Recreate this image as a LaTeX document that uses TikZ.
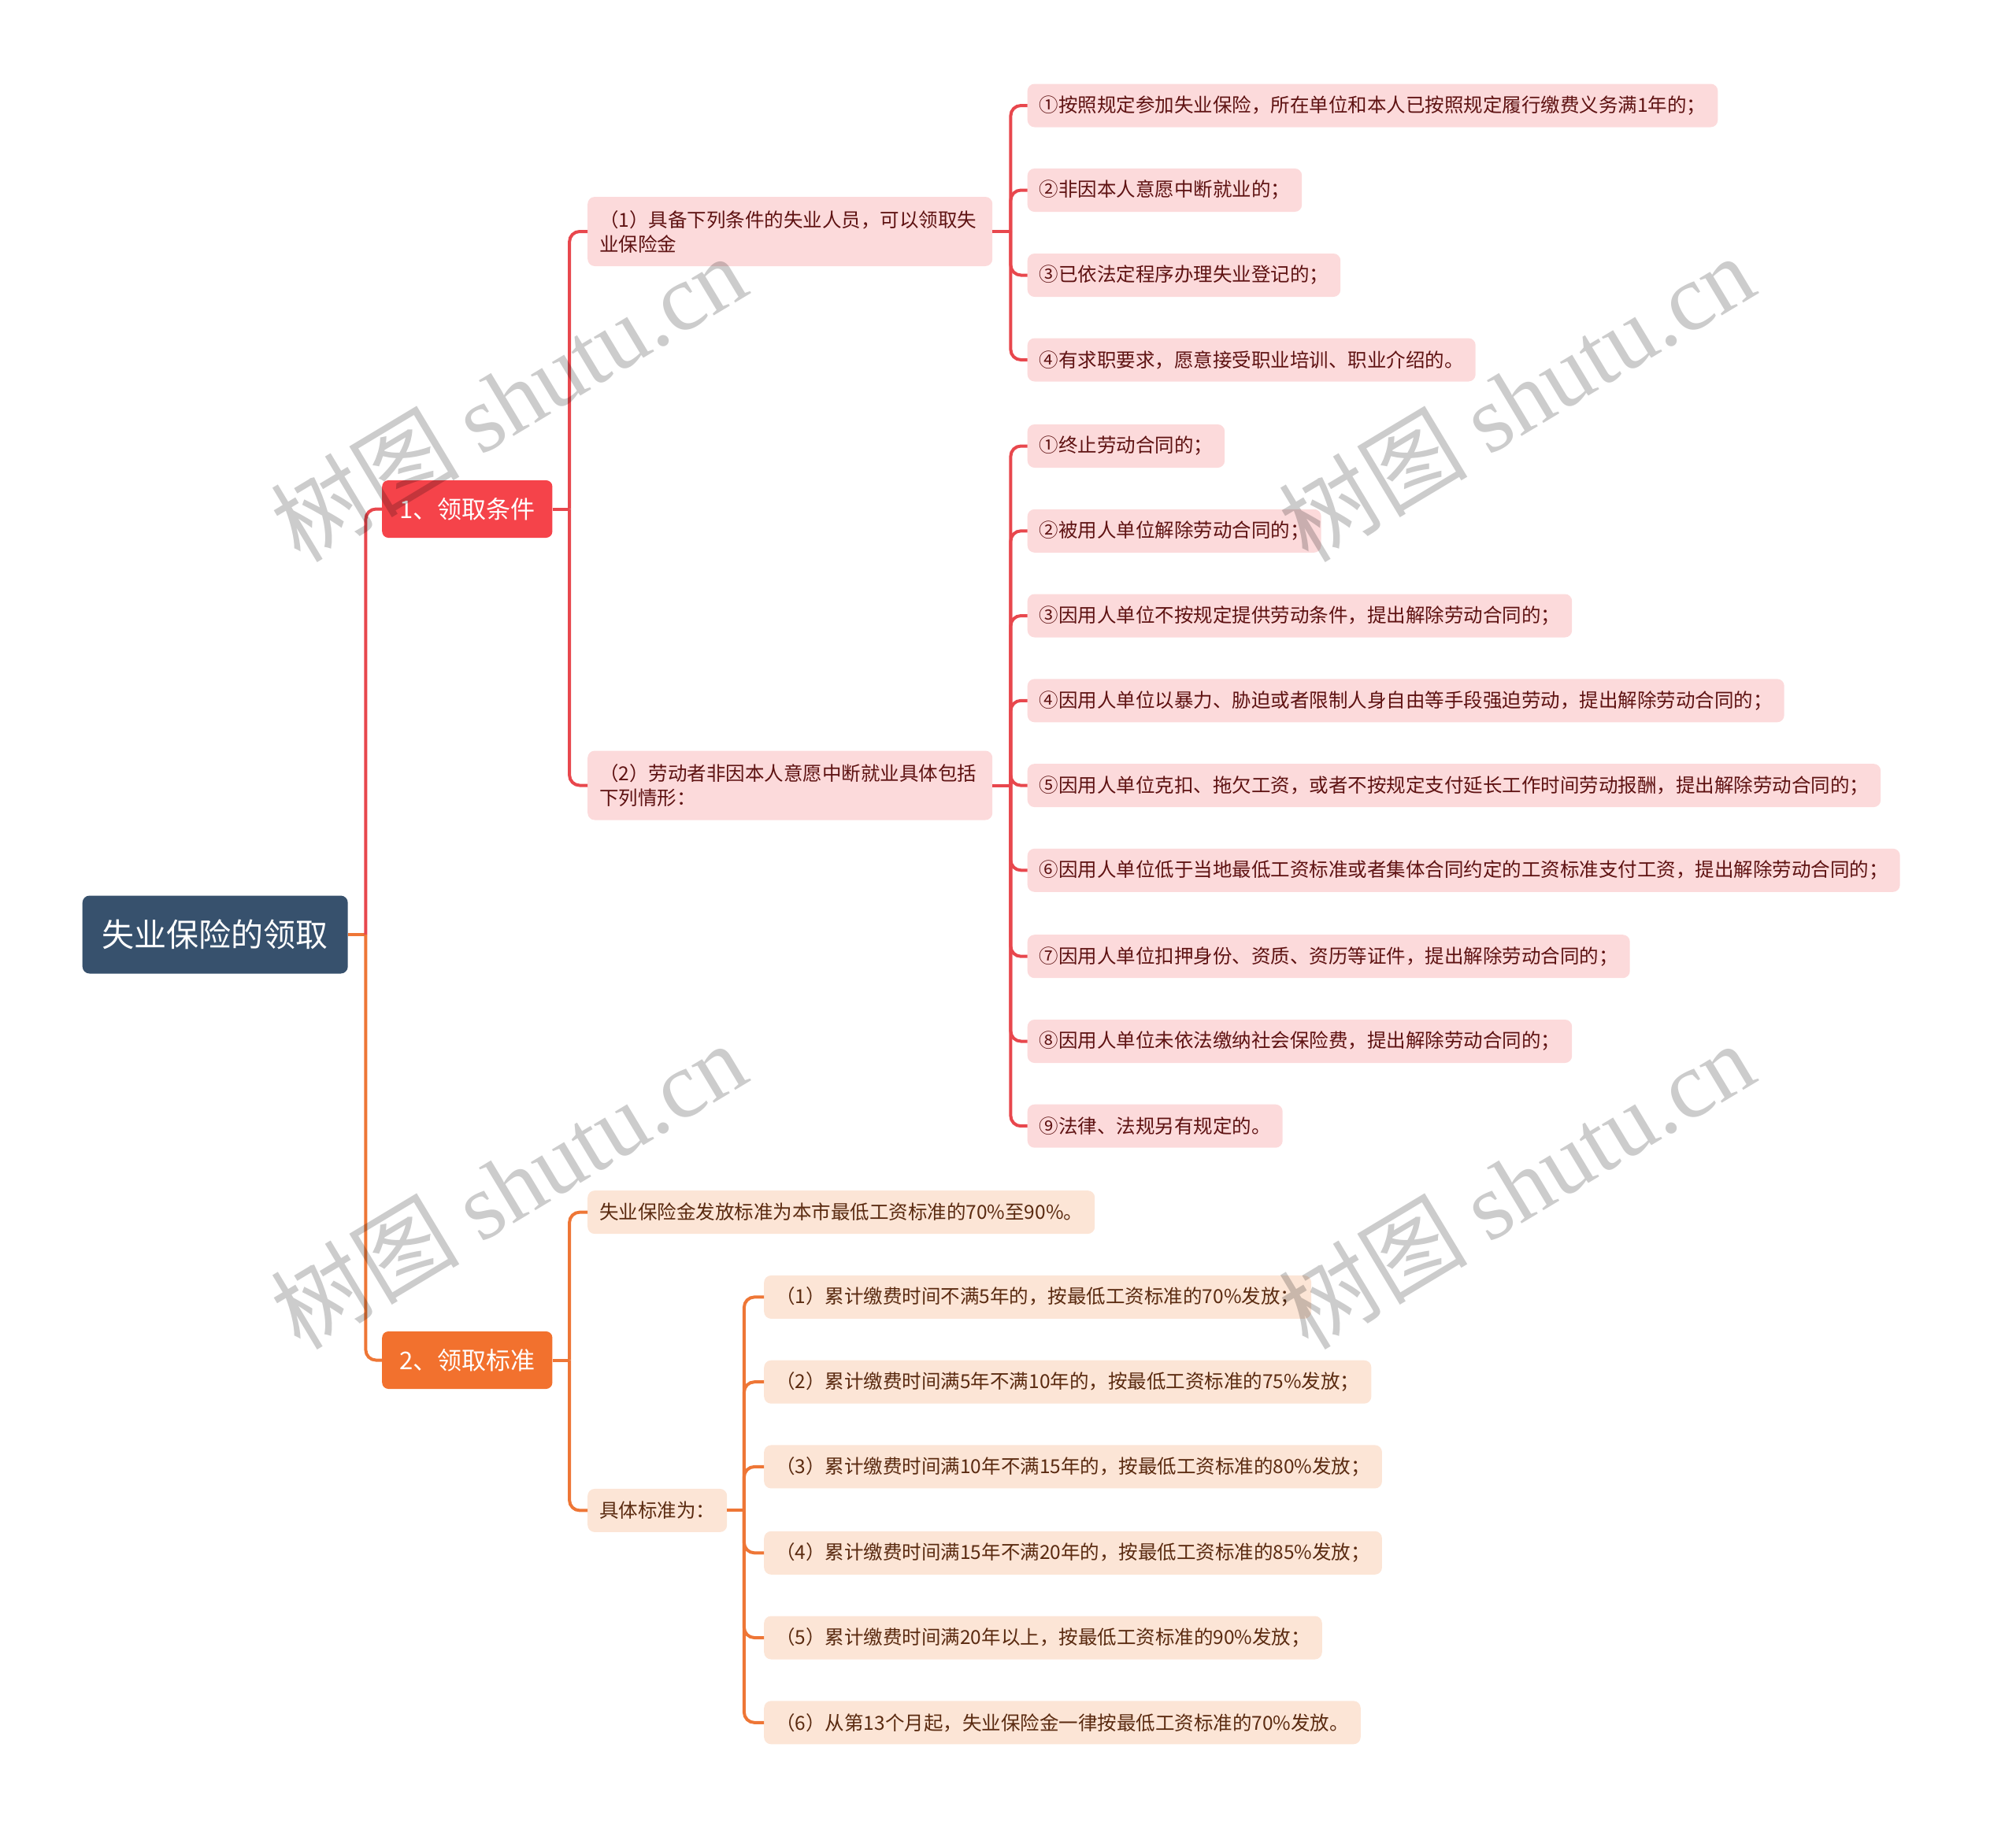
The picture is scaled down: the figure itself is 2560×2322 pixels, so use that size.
\documentclass[tikz,border=0pt]{standalone}
\usepackage{fontspec}
\setmainfont{Noto Sans CJK SC}
\newfontfamily\wmfont{Liberation Serif}
\usetikzlibrary{positioning}
\definecolor{RootBlue}{HTML}{37516D}
\definecolor{TopRed}{HTML}{F5434A}
\definecolor{TopOrange}{HTML}{F2712E}
\definecolor{LineRed}{HTML}{E8474D}
\definecolor{LineOrange}{HTML}{EE7636}
\definecolor{PaleRed}{HTML}{FCDADB}
\definecolor{PaleOrange}{HTML}{FCE5D6}
\definecolor{InkRed}{HTML}{5E1212}
\definecolor{InkOrange}{HTML}{5A2A10}
\tikzset{
  root/.style={rounded corners=9pt,fill=RootBlue,text=white,font=\fontsize{41}{48}\selectfont,inner xsep=25pt,inner ysep=0pt,minimum height=99pt,anchor=west},
  topicR/.style={rounded corners=8pt,fill=TopRed,text=white,font=\fontsize{31}{36}\selectfont,inner xsep=22pt,inner ysep=0pt,minimum height=73pt,anchor=west},
  topicO/.style={topicR,fill=TopOrange},
  leafR/.style={rounded corners=9pt,fill=PaleRed,text=InkRed,font=\fontsize{24.5}{31}\selectfont,inner xsep=15pt,inner ysep=0pt,minimum height=55pt,anchor=west},
  leafO/.style={leafR,fill=PaleOrange,text=InkOrange},
  subR/.style={leafR,text width=484pt,align=left,minimum height=88pt},
  linkR/.style={draw=LineRed,line width=4pt,rounded corners=13pt},
  linkO/.style={linkR,draw=LineOrange},
  wm/.style={rotate=31,text=black,text opacity=.2,font=\fontsize{120}{124}\selectfont}
}
\begin{document}
\begin{tikzpicture}[x=1pt,y=-1pt]
  \useasboundingbox (0,0) rectangle (2560,2322);

  % root and main topics
  \node[root] (root) at (104.5,1187) {失业保险的领取};
  \node[topicR] (cond) at (485,646.5) {1、领取条件};
  \node[topicO] (std) at (485,1727.5) {2、领取标准};

  % 1、领取条件
  \node[subR] (c1) at (746,294) {（1）具备下列条件的失业人员，可以领取失\\业保险金};
  \node[subR] (c2) at (746,997.5) {（2）劳动者非因本人意愿中断就业具体包括\\下列情形：};

  \node[leafR] (p1) at (1304.5,134) {①按照规定参加失业保险，所在单位和本人已按照规定履行缴费义务满1年的；};
  \node[leafR] (p2) at (1304.5,241.5) {②非因本人意愿中断就业的；};
  \node[leafR] (p3) at (1304.5,349.5) {③已依法定程序办理失业登记的；};
  \node[leafR] (p4) at (1304.5,457) {④有求职要求，愿意接受职业培训、职业介绍的。};

  \node[leafR] (q1) at (1304.5,566.5) {①终止劳动合同的；};
  \node[leafR] (q2) at (1304.5,674.3) {②被用人单位解除劳动合同的；};
  \node[leafR] (q3) at (1304.5,782) {③因用人单位不按规定提供劳动条件，提出解除劳动合同的；};
  \node[leafR] (q4) at (1304.5,889.8) {④因用人单位以暴力、胁迫或者限制人身自由等手段强迫劳动，提出解除劳动合同的；};
  \node[leafR] (q5) at (1304.5,997.6) {⑤因用人单位克扣、拖欠工资，或者不按规定支付延长工作时间劳动报酬，提出解除劳动合同的；};
  \node[leafR] (q6) at (1304.5,1105.3) {⑥因用人单位低于当地最低工资标准或者集体合同约定的工资标准支付工资，提出解除劳动合同的；};
  \node[leafR] (q7) at (1304.5,1214.7) {⑦因用人单位扣押身份、资质、资历等证件，提出解除劳动合同的；};
  \node[leafR] (q8) at (1304.5,1322.5) {⑧因用人单位未依法缴纳社会保险费，提出解除劳动合同的；};
  \node[leafR] (q9) at (1304.5,1430.2) {⑨法律、法规另有规定的。};

  % 2、领取标准
  \node[leafO] (s1) at (746,1539.6) {失业保险金发放标准为本市最低工资标准的70\%至90\%。};
  \node[leafO] (s2) at (746,1918.4) {具体标准为：};

  \node[leafO] (r1) at (970,1647.4) {（1）累计缴费时间不满5年的，按最低工资标准的70\%发放；};
  \node[leafO] (r2) at (970,1755.2) {（2）累计缴费时间满5年不满10年的，按最低工资标准的75\%发放；};
  \node[leafO] (r3) at (970,1862.9) {（3）累计缴费时间满10年不满15年的，按最低工资标准的80\%发放；};
  \node[leafO] (r4) at (970,1972.3) {（4）累计缴费时间满15年不满20年的，按最低工资标准的85\%发放；};
  \node[leafO] (r5) at (970,2080) {（5）累计缴费时间满20年以上，按最低工资标准的90\%发放；};
  \node[leafO] (r6) at (970,2187.8) {（6）从第13个月起，失业保险金一律按最低工资标准的70\%发放。};

  % connectors
  \draw[linkO] (root.east) -- ++(22.5,0) coordinate (j0);
  \draw[linkR] (j0) |- (cond.west);
  \draw[linkO] (j0) |- (std.west);

  \draw[linkR] (cond.east) -- ++(21.5,0) coordinate (j1);
  \draw[linkR] (j1) |- (c1.west);
  \draw[linkR] (j1) |- (c2.west);

  \draw[linkR] (c1.east) -- ++(23,0) coordinate (j2);
  \foreach \k in {1,...,4} \draw[linkR] (j2) |- (p\k.west);

  \draw[linkR] (c2.east) -- ++(23,0) coordinate (j3);
  \foreach \k in {1,...,9} \draw[linkR] (j3) |- (q\k.west);

  \draw[linkO] (std.east) -- ++(21.5,0) coordinate (j4);
  \draw[linkO] (j4) |- (s1.west);
  \draw[linkO] (j4) |- (s2.west);

  \draw[linkO] (s2.east) -- ++(21.5,0) coordinate (j5);
  \foreach \k in {1,...,6} \draw[linkO] (j5) |- (r\k.west);

  % watermarks
  \node[wm] (wm1) at (645,505) {树图 {\wmfont shutu.cn}};
  \node[wm] (wm2) at (1925,505) {树图 {\wmfont shutu.cn}};
  \node[wm] (wm3) at (645,1505) {树图 {\wmfont shutu.cn}};
  \node[wm] (wm4) at (1925,1505) {树图 {\wmfont shutu.cn}};
\end{tikzpicture}
\end{document}
